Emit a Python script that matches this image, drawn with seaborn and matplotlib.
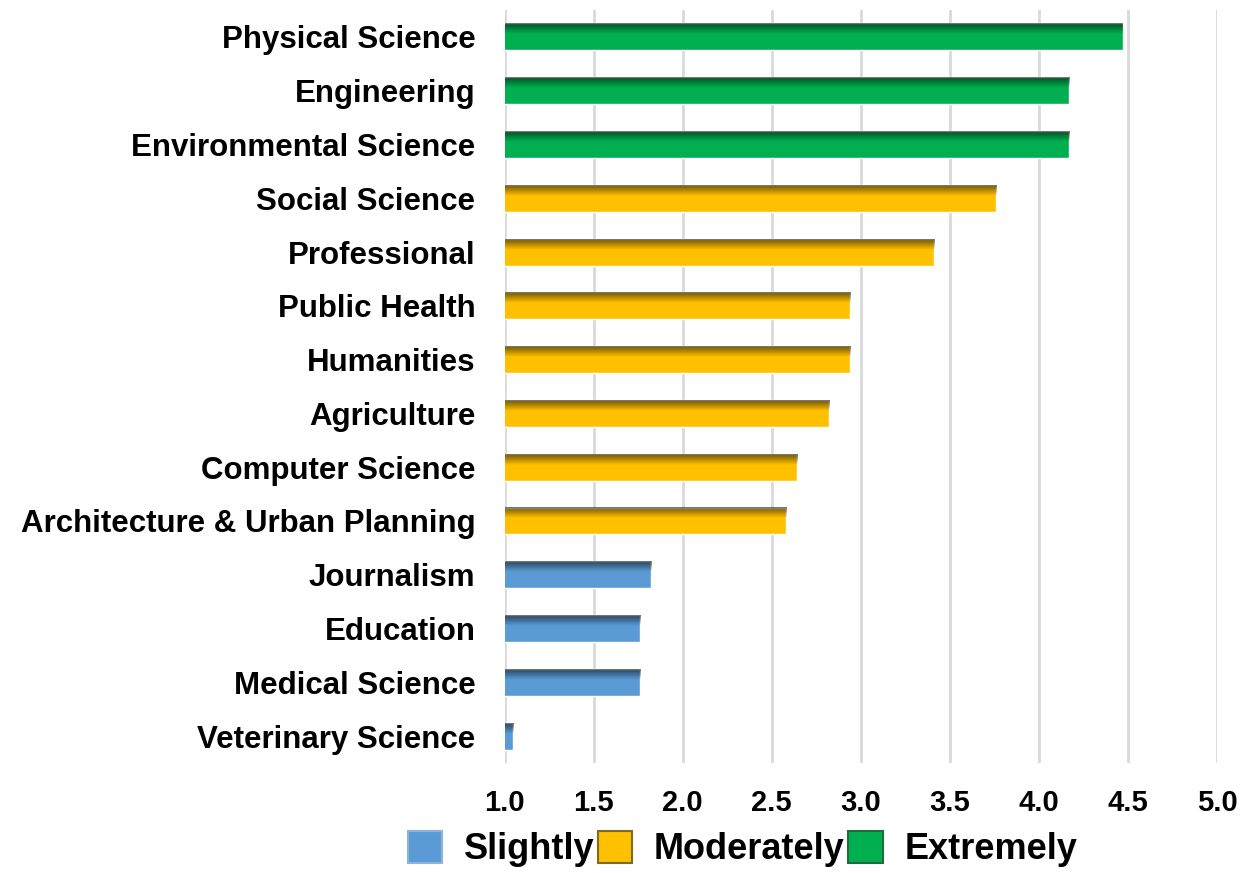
import numpy as np
import pandas as pd
import matplotlib.pyplot as plt
import seaborn as sns
from matplotlib.patches import Patch

categories = ["Physical Science", "Engineering", "Environmental Science", "Social Science",
              "Professional", "Public Health", "Humanities", "Agriculture", "Computer Science",
              "Architecture & Urban Planning", "Journalism", "Education", "Medical Science",
              "Veterinary Science"]
scores = [4.47, 4.17, 4.17, 3.76, 3.41, 2.94, 2.94, 2.82, 2.64, 2.58, 1.82, 1.76, 1.76, 1.05]
levels = ["Extremely"] * 3 + ["Moderately"] * 7 + ["Slightly"] * 4

level_order = ["Slightly", "Moderately", "Extremely"]
palette = {"Slightly": "#5B9BD5", "Moderately": "#FFC000", "Extremely": "#00B050"}
edges = {"Slightly": "#8FB3DA", "Moderately": "#7F6A20", "Extremely": "#1F6B3A"}

df = pd.DataFrame({"field": categories, "score": scores, "level": levels})

sns.set_style("white")
plt.rcParams['font.family'] = ['Liberation Sans', 'DejaVu Sans']
plt.rcParams['font.weight'] = 'bold'
plt.rcParams['text.color'] = 'black'
plt.rcParams['xtick.color'] = 'black'
plt.rcParams['ytick.color'] = 'black'

fig = plt.figure(figsize=(12.52, 8.73), dpi=100)
ax = fig.add_axes([0.403, 0.126, 0.569, 0.8625])

sns.barplot(data=df, x="score", y="field", hue="level", hue_order=level_order,
            palette=palette, dodge=False, width=0.5, orient="h", ax=ax,
            saturation=1, legend=False)

# darker band on top and left of each bar, like the office-style bevel
for p in ax.patches:
    x0, y0, x1, y1 = p.get_bbox().extents
    if x1 - x0 <= 0:
        continue
    h, w = 40, 200
    rows = np.linspace(0, 1, h)
    vert = np.clip(1 - rows / 0.4, 0, 1) * 0.55
    cols = np.linspace(0, 1, w) * (x1 - x0)
    horiz = np.clip(1 - cols / 0.1, 0, 1) * 0.35
    alpha = np.clip(vert[:, None] + horiz[None, :], 0, 0.6)
    img = np.zeros((h, w, 4))
    img[..., 3] = alpha
    ax.imshow(img, extent=(x0, x1, max(y0, y1), min(y0, y1)), origin="upper",
              aspect="auto", zorder=p.get_zorder() + 0.1, interpolation="bilinear")

ax.set_xlim(1.0, 5.0)
ax.set_ylim(13.5, -0.5)
ax.set_xticks(np.arange(1.0, 5.01, 0.5))
ax.set_xticklabels([f"{v:.1f}" for v in np.arange(1.0, 5.01, 0.5)])
ax.xaxis.grid(True, color="#D9D9D9", linewidth=2)
ax.set_axisbelow(True)
ax.tick_params(axis="x", length=0, pad=19, labelsize=21)
ax.tick_params(axis="y", length=0, pad=21, labelsize=22.5)
for lab in ax.get_xticklabels() + ax.get_yticklabels():
    lab.set_fontweight("bold")
ax.set_xlabel("")
ax.set_ylabel("")
sns.despine(ax=ax, left=True, bottom=True)

handles = [Patch(facecolor=palette[l], edgecolor=edges[l], linewidth=1.5, label=l)
           for l in level_order]
fig.legend(handles=handles, loc="center", bbox_to_anchor=(0.593, 0.027), ncol=3,
           frameon=False, prop={"size": 26, "weight": "bold"},
           handlelength=0.95, handleheight=0.95, columnspacing=0.1, handletextpad=0.6)

fig.savefig("out.png", dpi=100)
